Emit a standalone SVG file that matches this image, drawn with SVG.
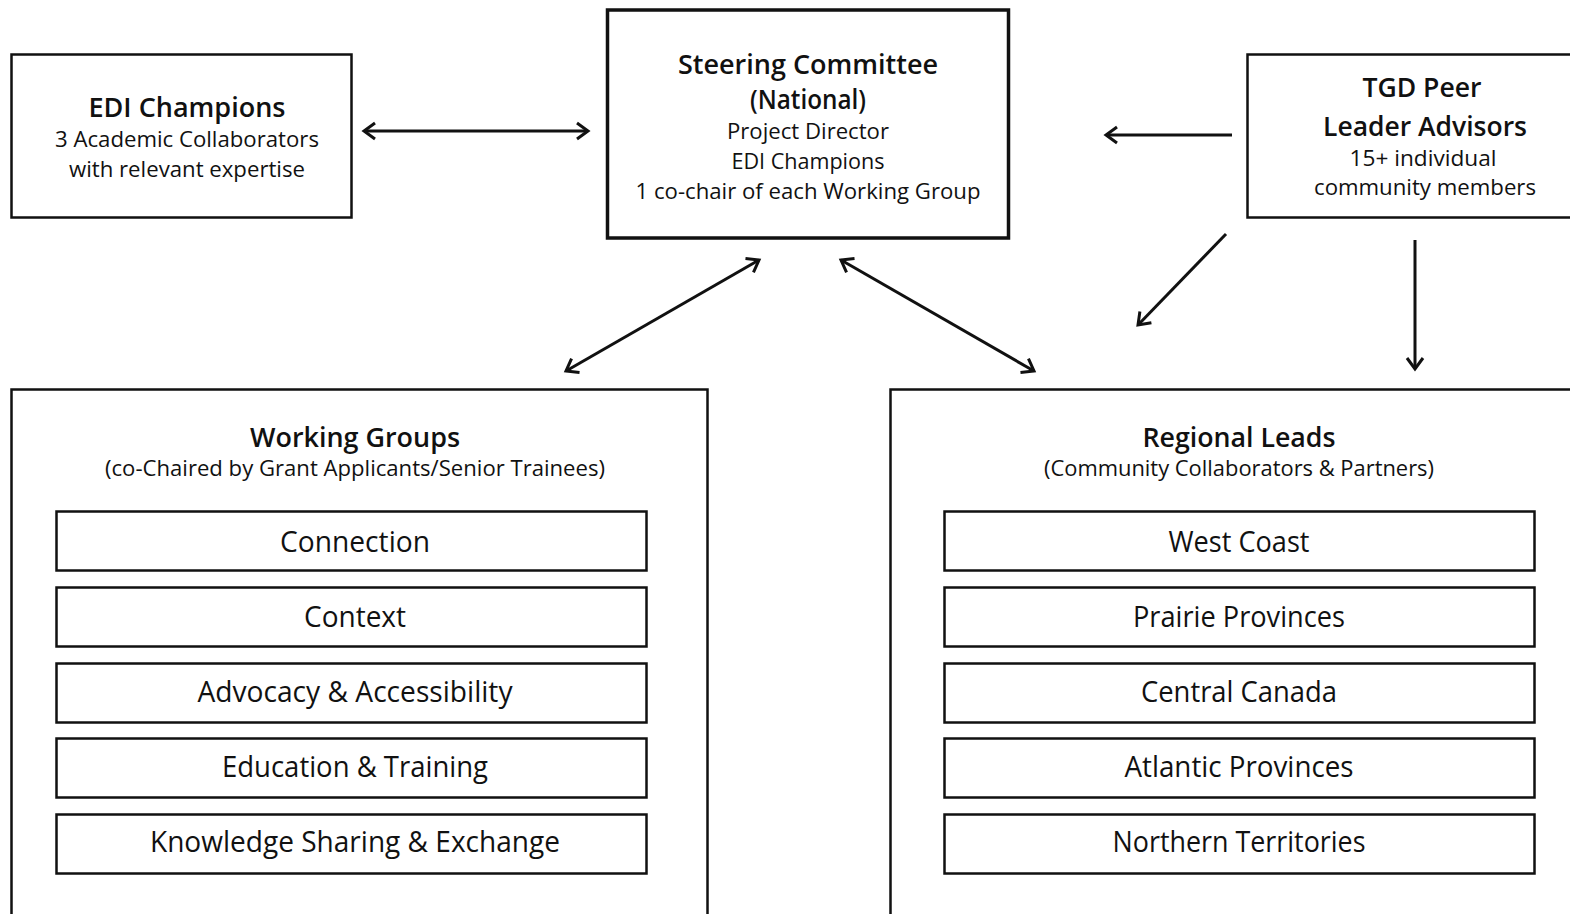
<svg xmlns="http://www.w3.org/2000/svg" width="1570" height="914" viewBox="0 0 1570 914">
<style>
.box{fill:#fff;stroke:#111;stroke-width:2.5}
.thick{stroke-width:3.5}
.t{font-family:"Open Sans","Noto Sans",sans-serif;fill:#111;text-anchor:middle}
.h{font-size:27px;font-weight:600}
.s{font-size:21px;font-weight:400}
.i{font-size:29px;font-weight:500}
.c{stroke:#111;stroke-width:3;fill:none}
</style>
<defs>
<marker id="ah" viewBox="-14 -10 17 20" refX="0" refY="0" markerWidth="17" markerHeight="20" markerUnits="userSpaceOnUse" orient="auto-start-reverse">
<path d="M-11,-8 L0,0 L-11,8" fill="none" stroke="#111" stroke-width="3" stroke-linejoin="miter"/>
</marker>
</defs>
<rect width="1570" height="914" fill="#fff"/>
<g id="connectors">
<line class="c" x1="364" y1="131" x2="588" y2="131" marker-start="url(#ah)" marker-end="url(#ah)"/>
<line class="c" x1="1232" y1="135" x2="1106" y2="135" marker-end="url(#ah)"/>
<line class="c" x1="1226" y1="234" x2="1138" y2="325" marker-end="url(#ah)"/>
<line class="c" x1="1415" y1="240" x2="1415" y2="369" marker-end="url(#ah)"/>
<line class="c" x1="566" y1="371" x2="759" y2="260" marker-start="url(#ah)" marker-end="url(#ah)"/>
<line class="c" x1="841" y1="260" x2="1034" y2="371" marker-start="url(#ah)" marker-end="url(#ah)"/>
</g>
<g id="edi-champions">
<rect class="box" x="11.5" y="54.5" width="340" height="163"/>
<text class="t h" x="187" y="117" textLength="197" lengthAdjust="spacingAndGlyphs">EDI Champions</text>
<text class="t s" x="187" y="147" textLength="264" lengthAdjust="spacingAndGlyphs">3 Academic Collaborators</text>
<text class="t s" x="187" y="177" textLength="236" lengthAdjust="spacingAndGlyphs">with relevant expertise</text>
</g>
<g id="steering-committee">
<rect class="box thick" x="607.5" y="10" width="401" height="228"/>
<text class="t h" x="808" y="74" textLength="260" lengthAdjust="spacingAndGlyphs">Steering Committee</text>
<text class="t h" x="808" y="109" textLength="116" lengthAdjust="spacingAndGlyphs">(National)</text>
<text class="t s" x="808" y="139" textLength="162" lengthAdjust="spacingAndGlyphs">Project Director</text>
<text class="t s" x="808" y="169" textLength="153" lengthAdjust="spacingAndGlyphs">EDI Champions</text>
<text class="t s" x="808" y="199" textLength="345" lengthAdjust="spacingAndGlyphs">1 co-chair of each Working Group</text>
</g>
<g id="tgd-peer-leader-advisors">
<rect class="box" x="1247.5" y="54.5" width="325" height="163"/>
<text class="t h" x="1422" y="97" textLength="119" lengthAdjust="spacingAndGlyphs">TGD Peer</text>
<text class="t h" x="1425" y="136" textLength="204" lengthAdjust="spacingAndGlyphs">Leader Advisors</text>
<text class="t s" x="1423" y="166" textLength="147" lengthAdjust="spacingAndGlyphs">15+ individual</text>
<text class="t s" x="1425" y="195" textLength="222" lengthAdjust="spacingAndGlyphs">community members</text>
</g>
<g id="working-groups">
<rect class="box" x="11.5" y="389.5" width="696" height="540"/>
<text class="t h" x="355" y="447" textLength="210" lengthAdjust="spacingAndGlyphs">Working Groups</text>
<text class="t s" x="355" y="476" textLength="500" lengthAdjust="spacingAndGlyphs">(co-Chaired by Grant Applicants/Senior Trainees)</text>
<g id="wg-connection"><rect class="box" x="56.5" y="511.5" width="590" height="59"/><text class="t i" x="355" y="552" textLength="150" lengthAdjust="spacingAndGlyphs">Connection</text></g>
<g id="wg-context"><rect class="box" x="56.5" y="587.5" width="590" height="59"/><text class="t i" x="355" y="627" textLength="102" lengthAdjust="spacingAndGlyphs">Context</text></g>
<g id="wg-advocacy"><rect class="box" x="56.5" y="663.5" width="590" height="59"/><text class="t i" x="355" y="702" textLength="315" lengthAdjust="spacingAndGlyphs">Advocacy &amp; Accessibility</text></g>
<g id="wg-education"><rect class="box" x="56.5" y="738.5" width="590" height="59"/><text class="t i" x="355" y="777" textLength="266" lengthAdjust="spacingAndGlyphs">Education &amp; Training</text></g>
<g id="wg-knowledge"><rect class="box" x="56.5" y="814.5" width="590" height="59"/><text class="t i" x="355" y="852" textLength="410" lengthAdjust="spacingAndGlyphs">Knowledge Sharing &amp; Exchange</text></g>
</g>
<g id="regional-leads">
<rect class="box" x="890.5" y="389.5" width="690" height="540"/>
<text class="t h" x="1239" y="447" textLength="193" lengthAdjust="spacingAndGlyphs">Regional Leads</text>
<text class="t s" x="1239" y="476" textLength="390" lengthAdjust="spacingAndGlyphs">(Community Collaborators &amp; Partners)</text>
<g id="rl-west"><rect class="box" x="944.5" y="511.5" width="590" height="59"/><text class="t i" x="1239" y="552" textLength="141" lengthAdjust="spacingAndGlyphs">West Coast</text></g>
<g id="rl-prairie"><rect class="box" x="944.5" y="587.5" width="590" height="59"/><text class="t i" x="1239" y="627" textLength="212" lengthAdjust="spacingAndGlyphs">Prairie Provinces</text></g>
<g id="rl-central"><rect class="box" x="944.5" y="663.5" width="590" height="59"/><text class="t i" x="1239" y="702" textLength="196" lengthAdjust="spacingAndGlyphs">Central Canada</text></g>
<g id="rl-atlantic"><rect class="box" x="944.5" y="738.5" width="590" height="59"/><text class="t i" x="1239" y="777" textLength="229" lengthAdjust="spacingAndGlyphs">Atlantic Provinces</text></g>
<g id="rl-northern"><rect class="box" x="944.5" y="814.5" width="590" height="59"/><text class="t i" x="1239" y="852" textLength="253" lengthAdjust="spacingAndGlyphs">Northern Territories</text></g>
</g>
</svg>
